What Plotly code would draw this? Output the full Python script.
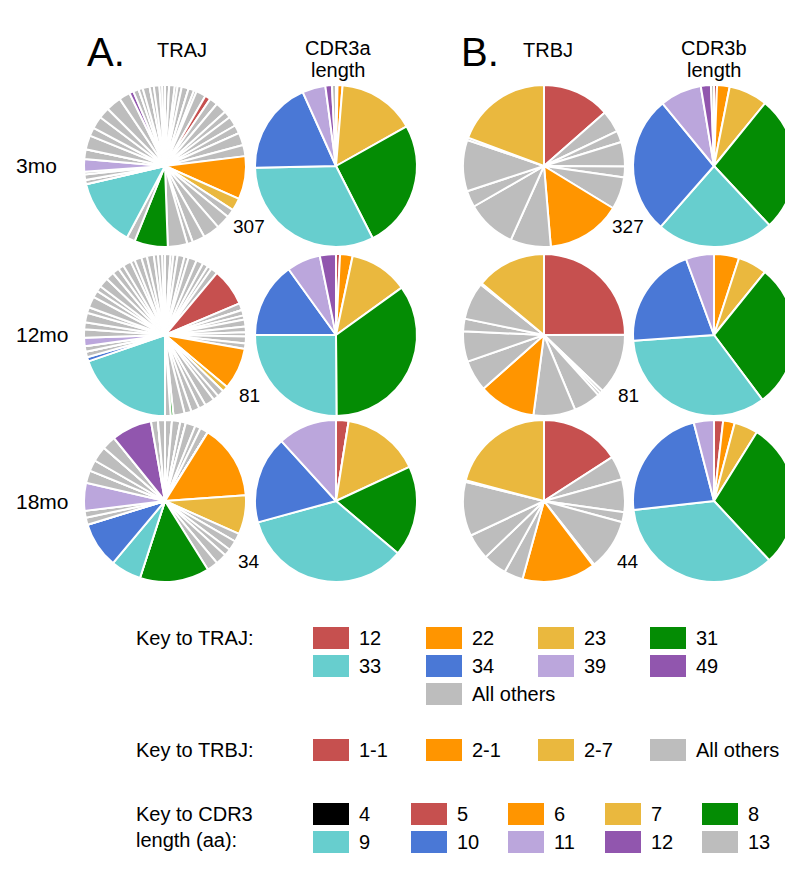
import plotly.graph_objects as go

W, H = 793, 881
FONT = "Liberation Sans, Arial, sans-serif"

RED = "#C6504F"
ORANGE = "#FF9500"
YELLOW = "#EAB83E"
GREEN = "#048C04"
CYAN = "#67CECE"
BLUE = "#4A78D6"
LAVENDER = "#BBA6DC"
PURPLE = "#9156AE"
GRAY = "#BDBDBD"
BLACK = "#000000"

# TRAJ usage (slice sizes, in degrees of the pie), genes in order 1..61
traj_genes = list(range(1, 62))
traj_3mo = [0, 3, 0, 4, 2, 3, 5, 0, 4, 2, 7,
            4,
            6, 0, 8, 5, 7, 6, 0, 9, 8,
            31, 9,
            6, 0, 10, 12, 9, 4, 14,
            24, 6, 49,
            0, 3, 0, 4, 2,
            9,
            7, 0, 10, 6, 9, 8, 0, 11, 8,
            3,
            4, 0, 3, 5, 0, 3, 4, 2, 2, 0, 0, 0]
traj_12mo = [0, 4, 2, 3, 5, 3, 6, 5, 4, 3, 5,
             27,
             5, 0, 4, 3, 5, 4, 3, 5, 4,
             30, 4,
             5, 4, 7, 5, 6, 5, 8,
             2, 4, 71,
             3, 4, 0, 4, 0,
             6,
             6, 5, 7, 4, 8, 5, 4, 7, 6,
             0,
             5, 4, 6, 3, 5, 4, 5, 3, 3, 2, 0, 0]
traj_18mo = [0, 5, 0, 6, 0, 4, 0, 0, 7, 4, 6,
             0,
             0, 0, 0, 0, 0, 0, 0, 0, 0,
             54, 28,
             6, 0, 7, 5, 8, 0, 8,
             50, 0, 22,
             33, 0, 5, 5, 0,
             20,
             9, 0, 8, 0, 11, 0, 0, 10, 0,
             29,
             5, 0, 0, 5, 0, 0, 0, 0, 0, 0, 0, 0]
traj_key = {12: RED, 22: ORANGE, 23: YELLOW, 31: GREEN, 33: CYAN,
            34: BLUE, 39: LAVENDER, 49: PURPLE}

# TRBJ usage (percent), genes in chromosomal order
trbj_genes = ["1-1", "1-2", "1-3", "1-4", "1-5", "1-6",
              "2-1", "2-2", "2-3", "2-4", "2-5", "2-6", "2-7"]
trbj_3mo = [13.6, 4.4, 2.3, 4.9, 2.2, 6.5, 15.0, 8.1, 10.0, 3.3, 10.3, 0.5, 19.4]
trbj_12mo = [25.0, 12.2, 0.6, 0.6, 5.4, 8.4, 11.4, 6.2, 6.1, 2.5, 7.5, 0.3, 14.0]
trbj_18mo = [16.0, 4.8, 6.6, 2.0, 10.2, 0.3, 14.7, 3.8, 4.8, 5.2, 10.9, 0.3, 21.0]
trbj_key = {"1-1": RED, "2-1": ORANGE, "2-7": YELLOW}

# CDR3 length distribution (percent)
cdr3_lengths = [4, 5, 6, 7, 8, 9, 10, 11, 12, 13]
cdr3_colors = [BLACK, RED, ORANGE, YELLOW, GREEN, CYAN, BLUE, LAVENDER, PURPLE, GRAY]
cdr3a_3mo = [0, 0.3, 1.0, 15.5, 25.5, 32.0, 18.5, 4.6, 1.3, 0.8]
cdr3a_12mo = [0, 0.8, 2.5, 11.7, 34.7, 25.0, 15.0, 6.7, 3.2, 0]
cdr3a_18mo = [0, 2.5, 0, 15.5, 18.0, 34.4, 17.4, 11.7, 0, 0]
cdr3b_3mo = [0, 0.6, 2.5, 7.7, 27.0, 23.3, 27.4, 8.3, 2.0, 0.6]
cdr3b_12mo = [0, 0, 5.0, 5.8, 28.9, 34.0, 20.5, 5.6, 0, 0]
cdr3b_18mo = [0, 1.8, 2.3, 4.7, 29.0, 34.9, 22.6, 4.0, 0, 0]

timepoints = ["3mo", "12mo", "18mo"]
traj_n = ["307", "81", "34"]
trbj_n = ["327", "81", "44"]

# pie layout (pixels)
col_x = [157, 328, 536, 706]
row_y = [158, 327, 493]
R = 81


def dom(cx, cy):
    return dict(x=[(cx - R) / W, (cx + R) / W],
                y=[1 - (cy + R) / H, 1 - (cy - R) / H])


def pie(labels, values, colors, cx, cy):
    return go.Pie(labels=labels, values=values, sort=False,
                  direction="clockwise", rotation=0,
                  marker=dict(colors=colors, line=dict(color="white", width=2)),
                  textinfo="none", showlegend=False, domain=dom(cx, cy),
                  hovertemplate="%{label}: %{percent}<extra></extra>")


fig = go.Figure()
traj_sets = [traj_3mo, traj_12mo, traj_18mo]
trbj_sets = [trbj_3mo, trbj_12mo, trbj_18mo]
cdr3a_sets = [cdr3a_3mo, cdr3a_12mo, cdr3a_18mo]
cdr3b_sets = [cdr3b_3mo, cdr3b_12mo, cdr3b_18mo]

for i, cy in enumerate(row_y):
    fig.add_trace(pie(["TRAJ%d" % g for g in traj_genes], traj_sets[i],
                      [traj_key.get(g, GRAY) for g in traj_genes], col_x[0], cy))
    fig.add_trace(pie(["CDR3a %d aa" % n for n in cdr3_lengths], cdr3a_sets[i],
                      cdr3_colors, col_x[1], cy))
    fig.add_trace(pie(["TRBJ" + g for g in trbj_genes], trbj_sets[i],
                      [trbj_key.get(g, GRAY) for g in trbj_genes], col_x[2], cy))
    fig.add_trace(pie(["CDR3b %d aa" % n for n in cdr3_lengths], cdr3b_sets[i],
                      cdr3_colors, col_x[3], cy))

ann = []


def text(x, y, s, size=20, xanchor="center", yanchor="middle"):
    ann.append(dict(x=x / W, y=1 - y / H, xref="paper", yref="paper", text=s,
                    showarrow=False, xanchor=xanchor, yanchor=yanchor,
                    font=dict(family=FONT, size=size, color="black")))


# headers
text(98, 44, "A.", size=40)
text(174, 42, "TRAJ")
text(330, 40, "CDR3a")
text(330, 62, "length")
text(472, 44, "B.", size=40)
text(540, 42, "TRBJ")
text(706, 40, "CDR3b")
text(706, 62, "length")

for i, cy in enumerate(row_y):
    text(6, cy, timepoints[i], size=21, xanchor="left")
    text(241, cy + 60, traj_n[i], size=19)
    text(620, cy + 60, trbj_n[i], size=19)

# keys
shapes = []
SW, SH = 36, 22


def key_item(x, y, color, label):
    shapes.append(dict(type="rect", xref="paper", yref="paper",
                       x0=x / W, x1=(x + SW) / W,
                       y0=1 - (y + SH / 2) / H, y1=1 - (y - SH / 2) / H,
                       fillcolor=color, line=dict(width=0)))
    text(x + 44, y, label, xanchor="left")


traj_cols = [305, 418, 530, 642]
traj_key_labels = ["12", "22", "23", "31", "33", "34", "39", "49"]
traj_key_colors = [RED, ORANGE, YELLOW, GREEN, CYAN, BLUE, LAVENDER, PURPLE]
text(126, 630, "Key to TRAJ:", xanchor="left")
for k, (lab, c) in enumerate(zip(traj_key_labels, traj_key_colors)):
    key_item(traj_cols[k % 4], 630 + 28 * (k // 4), c, lab)
key_item(traj_cols[1], 686, GRAY, "All others")

trbj_key_labels = ["1-1", "2-1", "2-7", "All others"]
trbj_key_colors = [RED, ORANGE, YELLOW, GRAY]
text(126, 742, "Key to TRBJ:", xanchor="left")
for k, (lab, c) in enumerate(zip(trbj_key_labels, trbj_key_colors)):
    key_item(traj_cols[k], 742, c, lab)

cdr3_cols = [305, 403, 500, 597, 694]
text(126, 806, "Key to CDR3", xanchor="left")
text(126, 832, "length (aa):", xanchor="left")
for k, (n, c) in enumerate(zip(cdr3_lengths, cdr3_colors)):
    key_item(cdr3_cols[k % 5], 806 + 28 * (k // 5), c, str(n))

fig.update_layout(width=W, height=H, margin=dict(l=0, r=0, t=0, b=0),
                  paper_bgcolor="white", plot_bgcolor="white",
                  annotations=ann, shapes=shapes,
                  font=dict(family=FONT))

fig.write_html("out.html")
